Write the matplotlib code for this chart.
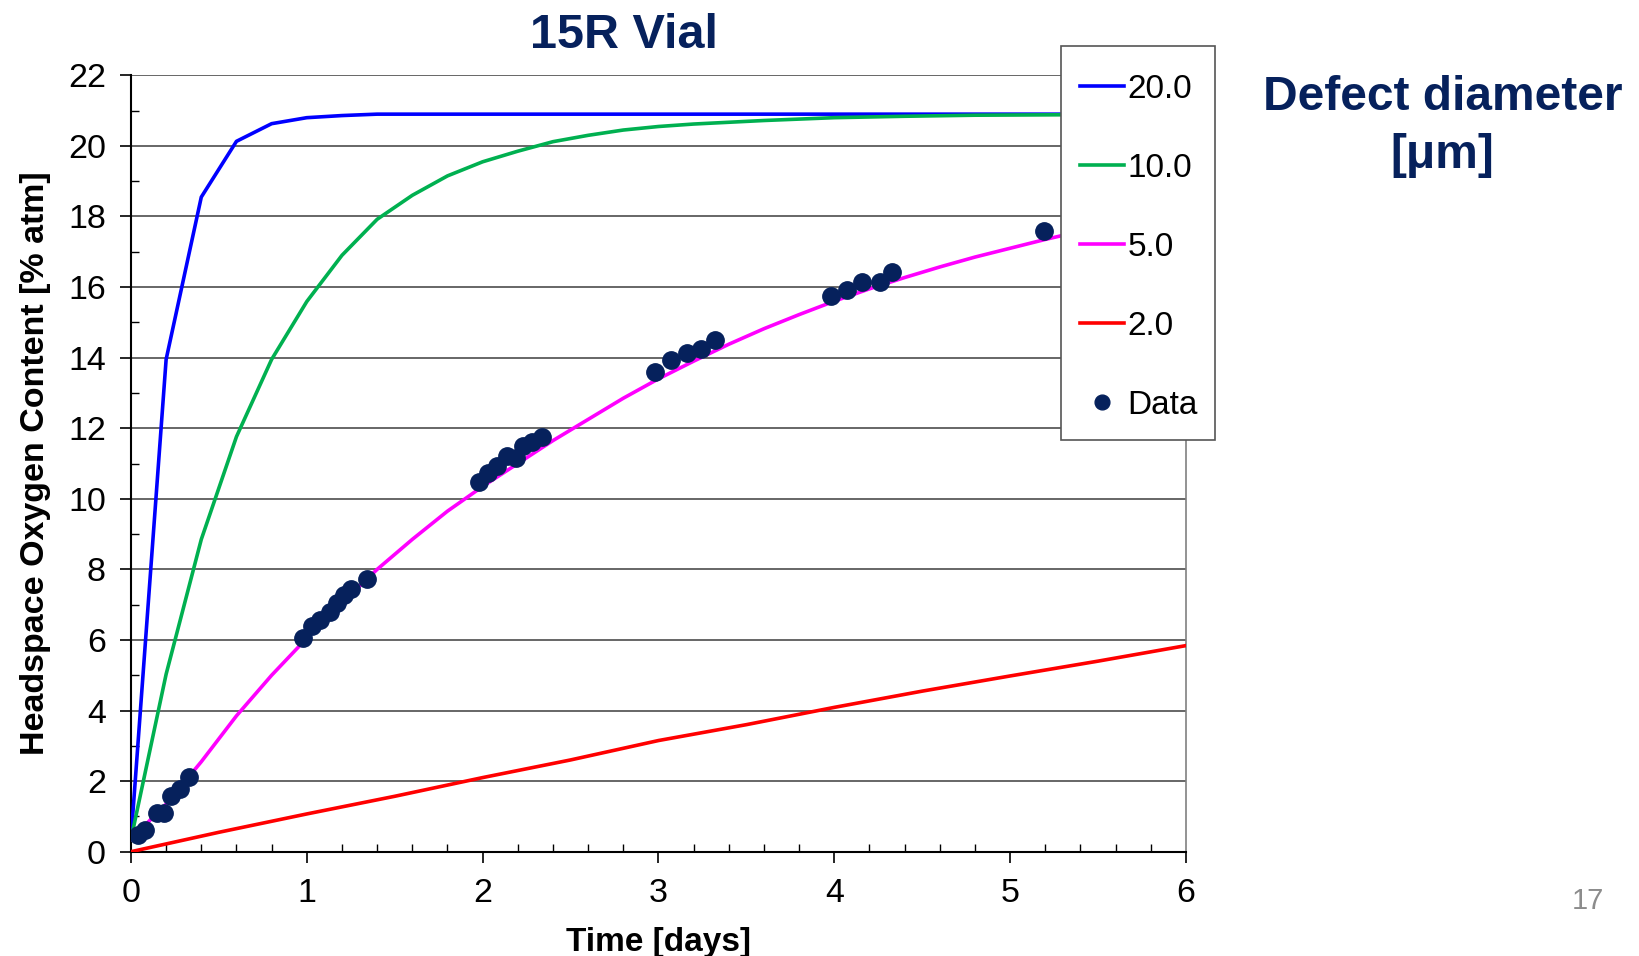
import matplotlib
matplotlib.use("Agg")
import matplotlib.pyplot as plt
from matplotlib.ticker import MultipleLocator
from matplotlib.patches import Rectangle

plt.rcParams['font.family'] = ['Liberation Sans', 'DejaVu Sans']

# ---- data ----
t_20 = [0, 0.2, 0.4, 0.6, 0.8, 1.0, 1.2, 1.4, 2.0, 3.0, 4.0, 5.0, 6.0]
o2_20 = [0.35, 13.95, 18.55, 20.13, 20.63, 20.80, 20.86, 20.90, 20.90, 20.90, 20.90, 20.90, 20.90]

t_10 = [0, 0.2, 0.4, 0.6, 0.8, 1.0, 1.2, 1.4, 1.6, 1.8, 2.0, 2.2, 2.4, 2.6, 2.8, 3.0,
        3.2, 3.6, 4.0, 4.4, 4.8, 5.2, 6.0]
o2_10 = [0.35, 5.03, 8.85, 11.76, 13.95, 15.59, 16.90, 17.92, 18.60, 19.15, 19.55, 19.85,
         20.12, 20.30, 20.45, 20.55, 20.62, 20.72, 20.80, 20.84, 20.87, 20.88, 20.90]

t_5 = [0, 0.2, 0.4, 0.6, 0.8, 1.0, 1.2, 1.4, 1.6, 1.8, 2.0, 2.2, 2.4, 2.6, 2.8, 3.0,
       3.2, 3.4, 3.6, 3.8, 4.0, 4.2, 4.4, 4.6, 4.8, 5.0, 5.2, 5.4, 5.6, 5.8, 6.0]
o2_5 = [0.35, 1.35, 2.55, 3.85, 5.00, 6.05, 7.05, 8.00, 8.85, 9.65, 10.35, 11.00, 11.65,
        12.25, 12.85, 13.40, 13.90, 14.38, 14.82, 15.22, 15.60, 15.95, 16.27, 16.57,
        16.85, 17.10, 17.35, 17.58, 17.80, 18.00, 18.20]

t_2 = [0, 0.5, 1.0, 1.5, 2.0, 2.5, 3.0, 3.5, 4.0, 4.5, 5.0, 5.5, 6.0]
o2_2 = [0.0, 0.55, 1.07, 1.57, 2.10, 2.60, 3.15, 3.60, 4.09, 4.55, 4.98, 5.40, 5.84]

data_t = [0.04, 0.08, 0.146, 0.19, 0.23, 0.28, 0.33,
          0.98, 1.03, 1.075, 1.13, 1.17, 1.21, 1.25, 1.34,
          1.98, 2.03, 2.08, 2.14, 2.19, 2.23, 2.28, 2.34,
          2.98, 3.07, 3.16, 3.24, 3.32,
          3.98, 4.07, 4.16, 4.26, 4.33,
          5.19]
data_o2 = [0.47, 0.62, 1.09, 1.10, 1.58, 1.77, 2.11,
           6.05, 6.40, 6.57, 6.80, 7.04, 7.28, 7.44, 7.73,
           10.48, 10.73, 10.94, 11.22, 11.16, 11.49, 11.60, 11.75,
           13.60, 13.94, 14.13, 14.25, 14.51,
           15.76, 15.91, 16.15, 16.15, 16.42,
           17.60]

labels = ['20.0', '10.0', '5.0', '2.0', 'Data']
title = '15R Vial'
xlabel = 'Time [days]'
ylabel = 'Headspace Oxygen Content [% atm]'
side_text = 'Defect diameter\n[\u03bcm]'

navy = '#06215c'

fig = plt.figure(figsize=(16.39, 9.56), dpi=100)
ax = fig.add_axes([0.0799, 0.1091, 0.6437, 0.8121])

lw = 2.6
l1, = ax.plot(t_20, o2_20, color='#0000ff', lw=lw, label=labels[0], zorder=3)
l2, = ax.plot(t_10, o2_10, color='#00b050', lw=lw, label=labels[1], zorder=3)
l3, = ax.plot(t_5, o2_5, color='#ff00ff', lw=lw, label=labels[2], zorder=3)
l4, = ax.plot(t_2, o2_2, color='#ff0000', lw=lw, label=labels[3], zorder=3)
l5, = ax.plot(data_t, data_o2, linestyle='none', marker='o', markersize=12.5,
              color=navy, label=labels[4], zorder=4)

ax.set_xlim(0, 6)
ax.set_ylim(0, 22)
ax.xaxis.set_major_locator(MultipleLocator(1))
ax.xaxis.set_minor_locator(MultipleLocator(0.2))
ax.yaxis.set_major_locator(MultipleLocator(2))
ax.yaxis.set_minor_locator(MultipleLocator(1))

ax.grid(True, which='major', axis='y', color='#4d4d4d', lw=1.2, zorder=1)
ax.set_axisbelow(True)

ax.tick_params(axis='both', which='major', direction='out', length=8, width=1.2,
               labelsize=24.5, colors='black')
ax.tick_params(axis='x', which='major', pad=11)
ax.tick_params(axis='y', which='major', pad=10)
ax.tick_params(axis='both', which='minor', direction='in', length=6, width=1.0)

ax.spines['top'].set_visible(False)
ax.spines['right'].set_color('#808080')
ax.spines['right'].set_linewidth(1.2)
ax.spines['left'].set_linewidth(1.5)
ax.spines['bottom'].set_linewidth(1.5)

ax.set_xlabel(xlabel, fontsize=24, fontweight='bold', labelpad=13)
ax.set_ylabel(ylabel, fontsize=24.5, fontweight='bold', labelpad=12.5)

fig.text(0.381, 0.963, title, fontsize=35, fontweight='bold', color=navy,
         ha='center', va='center')
fig.text(0.880, 0.868, side_text, fontsize=34.5, fontweight='bold', color=navy,
         ha='center', va='center', linespacing=1.37)
fig.text(0.969, 0.058, '17', fontsize=21, color='#8c8c8c', ha='center', va='center')

# legend box drawn separately so its size matches the reference
box = Rectangle((0.6473, 0.5397), 0.0940, 0.4121, transform=fig.transFigure,
                facecolor='white', edgecolor='#555555', linewidth=1.2, zorder=5)
fig.add_artist(box)

leg = fig.legend(handles=[l1, l2, l3, l4, l5], loc='upper left',
                 bbox_to_anchor=(0.6528, 0.9332), fontsize=24, frameon=False,
                 handlelength=1.32, handletextpad=0.1, labelspacing=1.44,
                 borderpad=0.3, borderaxespad=0, numpoints=1, markerscale=0.85)
leg.set_zorder(10)

fig.savefig('out.png', dpi=100)
